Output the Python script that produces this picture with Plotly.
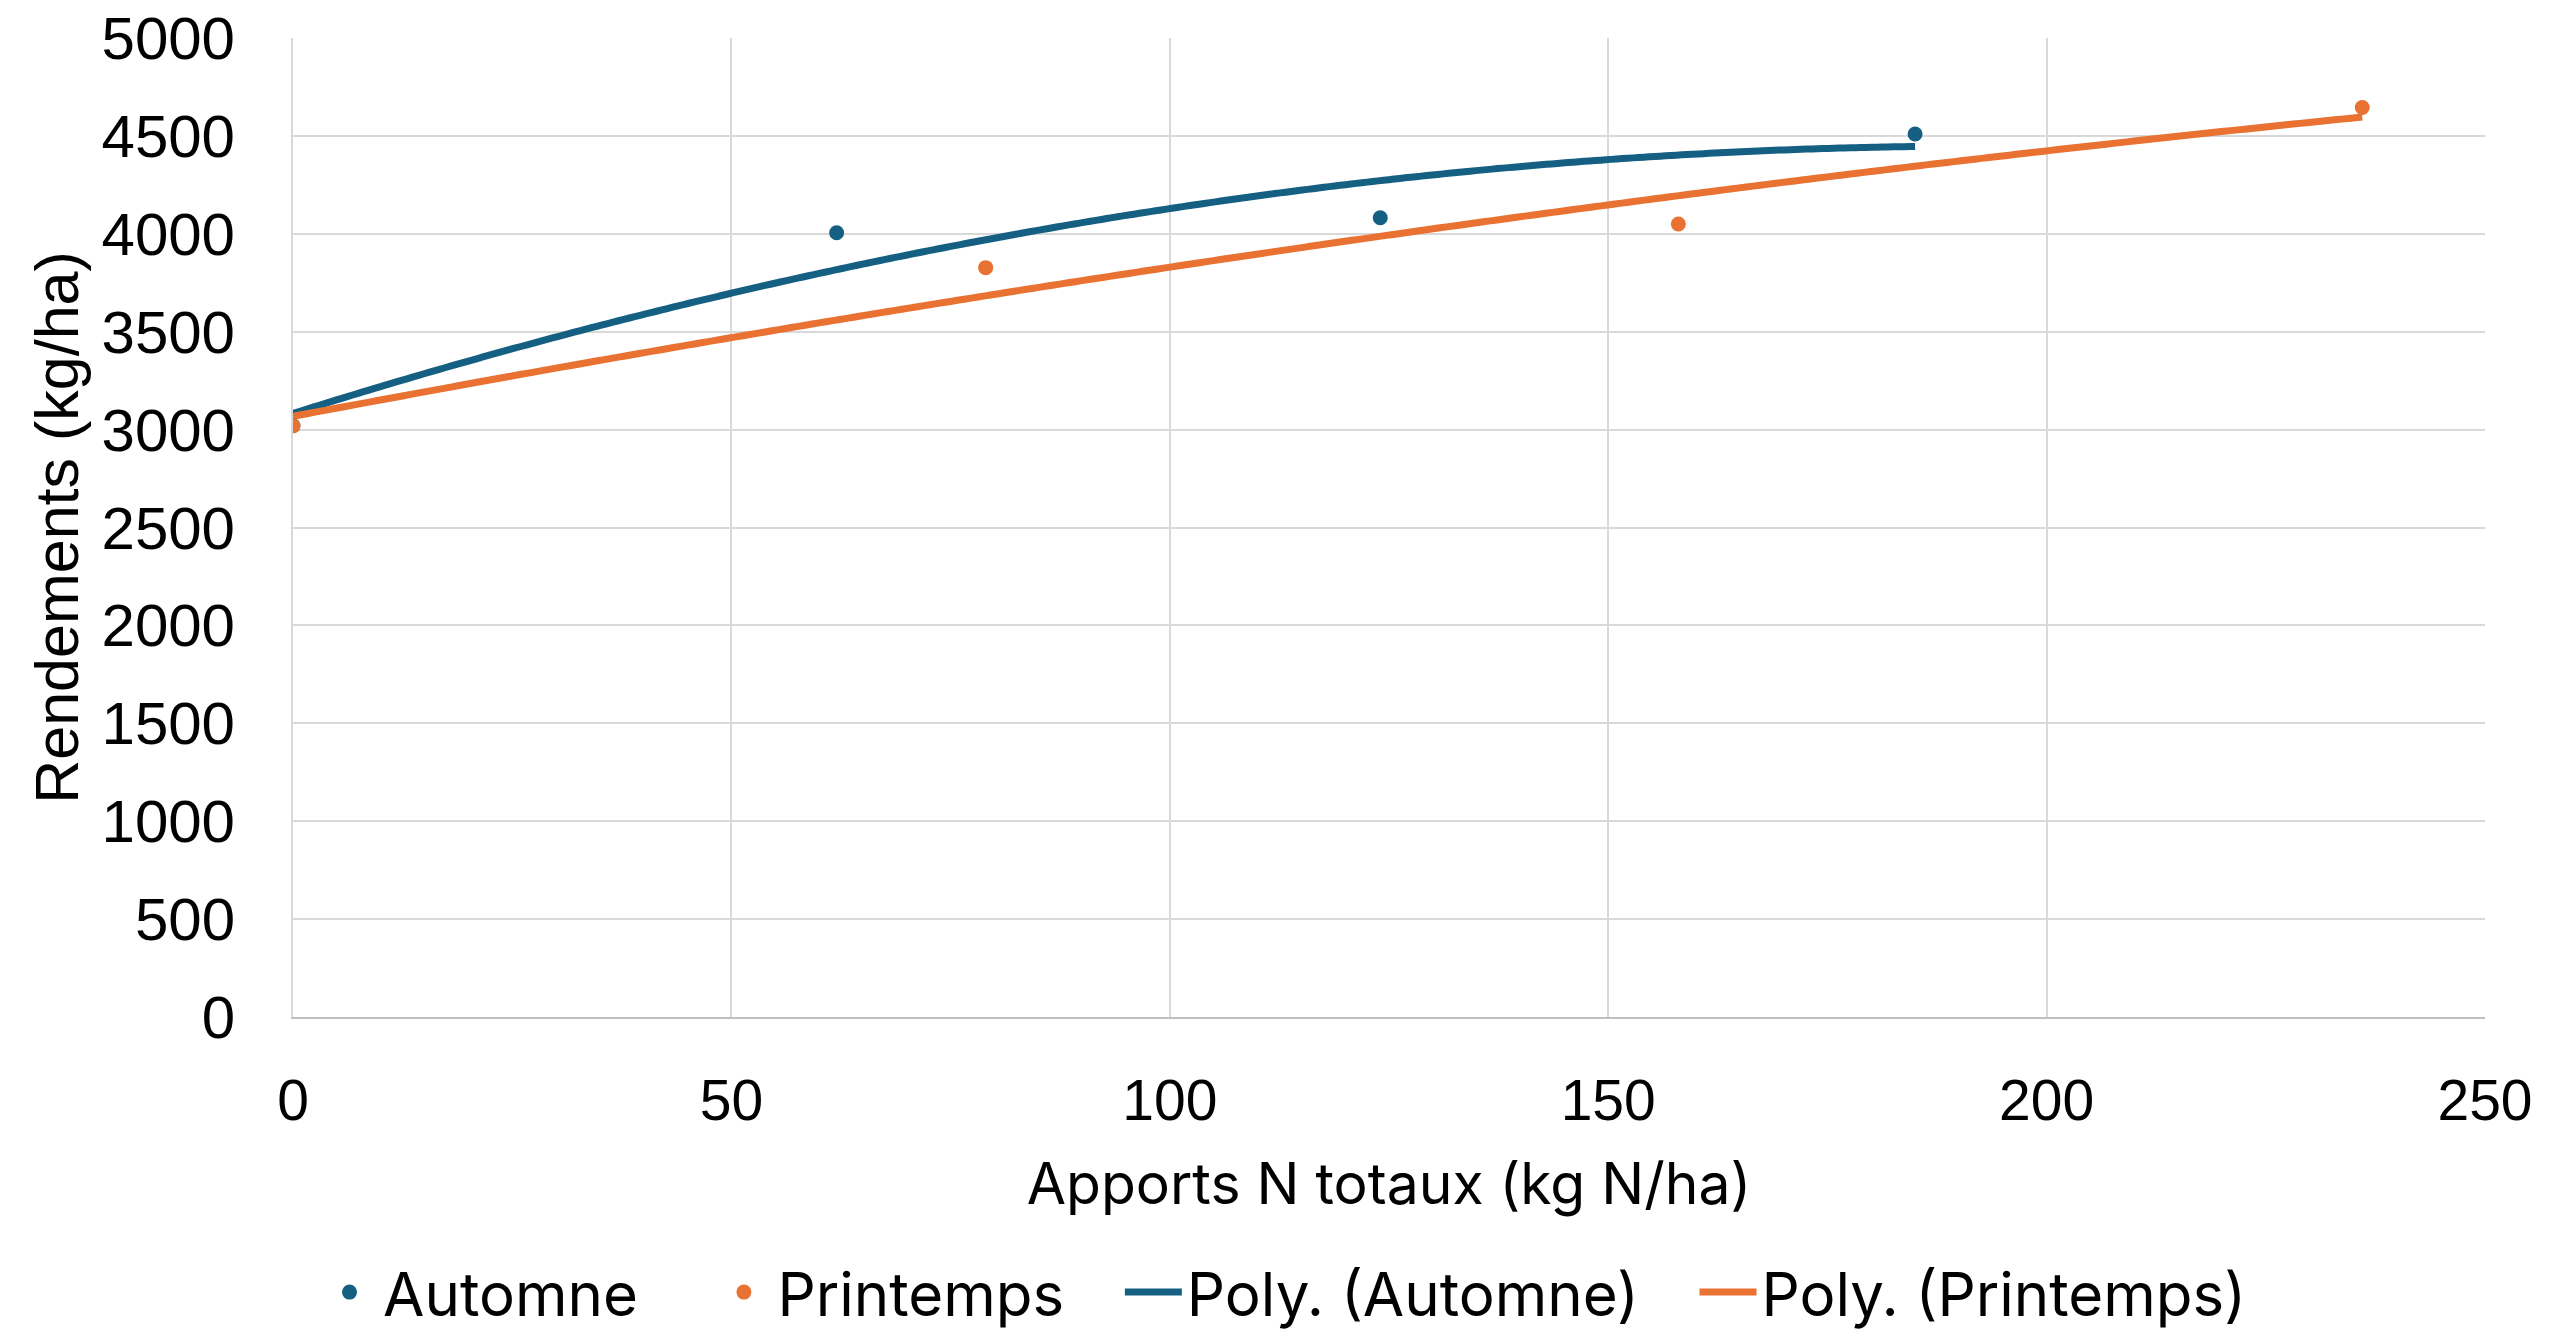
import numpy as np
import plotly.graph_objects as go

# Data
n_automne = [0, 62, 124, 185]
y_automne = [3020, 4005, 4082, 4510]
n_printemps = [0, 79, 158, 236]
y_printemps = [3020, 3827, 4050, 4645]

x_ticks = [0, 50, 100, 150, 200, 250]
y_ticks = [0, 500, 1000, 1500, 2000, 2500, 3000, 3500, 4000, 4500, 5000]

BLUE = "#156082"
ORANGE = "#E97132"
TICK_FONT = "Liberation Sans, Arial, sans-serif"
TEXT_FONT = "Inter, Noto Sans, sans-serif"
NB = "\u00a0"

def poly_trend(xs, ys):
    coeffs = np.polyfit(xs, ys, 2)
    xx = np.linspace(min(xs), max(xs), 300)
    return xx, np.polyval(coeffs, xx)

xa, ya = poly_trend(n_automne, y_automne)
xp, yp = poly_trend(n_printemps, y_printemps)

fig = go.Figure()
fig.add_trace(go.Scatter(x=xa, y=ya, mode="lines", name="Poly. (Automne)" + NB * 3,
                         line=dict(color=BLUE, width=7, simplify=False), legendrank=3))
fig.add_trace(go.Scatter(x=xp, y=yp, mode="lines", name="Poly. (Printemps)",
                         line=dict(color=ORANGE, width=7, simplify=False), legendrank=4))
fig.add_trace(go.Scatter(x=n_automne, y=y_automne, mode="markers", name="Automne" + NB * 4,
                         marker=dict(color=BLUE, size=15), legendrank=1))
fig.add_trace(go.Scatter(x=n_printemps, y=y_printemps, mode="markers", name="Printemps" + NB * 3,
                         marker=dict(color=ORANGE, size=15), legendrank=2))

fig.update_layout(
    width=2551, height=1329,
    margin=dict(l=293, r=66, t=38, b=312, autoexpand=False),
    paper_bgcolor="white", plot_bgcolor="white",
    font=dict(family=TEXT_FONT, size=56, color="black"),
    showlegend=True,
    legend=dict(orientation="h", x=0.0105, xanchor="left", y=-0.281, yanchor="middle",
                font=dict(family=TEXT_FONT, size=60, color="black"),
                itemwidth=57, bgcolor="rgba(0,0,0,0)"),
)
fig.update_xaxes(
    range=[0, 250], tickvals=x_ticks, ticktext=[str(v) for v in x_ticks],
    showgrid=True, gridcolor="#D9D9D9", gridwidth=2, automargin=False,
    showline=True, linecolor="#BFBFBF", linewidth=2, zeroline=False, mirror=False,
    tickfont=dict(family=TICK_FONT, size=57, color="black"), ticks="", ticklabelstandoff=33,
    title=dict(text="Apports N totaux (kg N/ha)", font=dict(family=TEXT_FONT, size=57, color="black"), standoff=33),
)
fig.update_yaxes(
    range=[0, 5000], tickvals=y_ticks, ticktext=[str(v) for v in y_ticks],
    showgrid=True, gridcolor="#D9D9D9", gridwidth=2, automargin=False,
    showline=True, linecolor="#D9D9D9", linewidth=2, zeroline=False,
    tickfont=dict(family=TICK_FONT, size=60, color="black"), ticks="", ticklabelstandoff=44,
    title=dict(text="Rendements (kg/ha)", font=dict(family=TICK_FONT, size=61, color="black"), standoff=3),
)

fig.write_html("out.html")
